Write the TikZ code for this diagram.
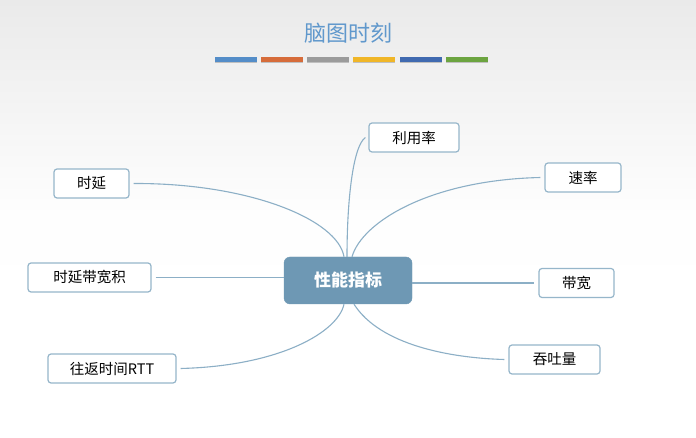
\documentclass[tikz,border=0pt]{standalone}
\usepackage{fontspec}
\setmainfont{Noto Sans CJK SC}
\usepackage{xcolor}
\definecolor{mmtitle}{RGB}{96,152,204}
\definecolor{mmhub}{RGB}{110,152,180}
\definecolor{mmedge}{RGB}{150,182,202}
\definecolor{mmline}{RGB}{140,175,198}
\definecolor{mmbg}{RGB}{234,234,234}
\definecolor{barblue}{RGB}{84,141,200}
\definecolor{barorange}{RGB}{214,108,58}
\definecolor{bargray}{RGB}{155,155,155}
\definecolor{baryellow}{RGB}{240,182,40}
\definecolor{bardblue}{RGB}{64,106,176}
\definecolor{bargreen}{RGB}{108,164,64}
\usepackage{tikz}
\usetikzlibrary{positioning,calc}

\begin{document}
\begin{tikzpicture}[x=1pt, y=-1pt,
  hub/.style={rectangle, rounded corners=6pt, fill=mmhub, draw=mmhub,
              minimum width=128pt, minimum height=47pt,
              font=\fontsize{17}{20}\selectfont\bfseries, text=white},
  leaf/.style={rectangle, rounded corners=3pt, draw=mmedge, line width=1.2pt,
               fill=white, minimum height=29pt, inner sep=0pt,
               font=\fontsize{14.5}{17}\selectfont, text=black},
  branch/.style={draw=mmline, line width=1.1pt},
  bar/.style={minimum width=42pt, minimum height=5pt, inner sep=0pt}
]
% Background
\useasboundingbox (0,0) rectangle (696,438);
\shade[top color=mmbg, bottom color=white, middle color=white!97!mmbg]
  (0,0) rectangle (696,438);

% Title and colour bars
\node[font=\fontsize{22}{26}\selectfont, text=mmtitle] (title) at (348,33) {脑图时刻};
\foreach \c [count=\i from 0] in {barblue,barorange,bargray,baryellow,bardblue,bargreen} {
  \fill[black!25] (214.5+46.3*\i,62) rectangle ++(42,1.5);
  \node[bar, fill=\c] (bar\i) at (235.5+46.3*\i,60) {};
}

% Center node
\node[hub] (hub) at (348,280.5) {性能指标};

% Left nodes
\node[leaf, minimum width=75pt]  (shiyan) at (91.5,183.5) {时延};
\node[leaf, minimum width=123pt] (dbj)    at (89.5,277.5) {时延带宽积};
\node[leaf, minimum width=128pt] (rtt)    at (112,368.5)  {往返时间RTT};

% Right nodes
\node[leaf, minimum width=90pt] (lyl)     at (414,137.5)  {利用率};
\node[leaf, minimum width=76pt] (sulv)    at (583,177.5)  {速率};
\node[leaf, minimum width=75pt] (daikuan) at (576.5,283)  {带宽};
\node[leaf, minimum width=91pt] (tuntu)   at (554.5,359.5){吞吐量};

% Branches
\draw[branch] ([xshift=4pt]shiyan.east) .. controls (250,183) and (338,220) .. ([xshift=-4pt]hub.north);
\draw[branch] ([xshift=4pt]dbj.east) -- (hub.west |- dbj.east);
\draw[branch] ([xshift=4pt]rtt.east) .. controls (280,366) and (338,332) .. ([xshift=-4pt]hub.south);
\draw[branch] ([xshift=-3pt]lyl.west) .. controls (353,146) and (347,200) .. ([xshift=-1pt]hub.north);
\draw[branch] ([xshift=-4pt]sulv.west) .. controls (430,180) and (362,222) .. ([xshift=4pt]hub.north);
\draw[branch] (hub.east |- daikuan.west) -- ([xshift=-4pt]daikuan.west);
\draw[branch] ([xshift=6pt]hub.south) .. controls (380,345) and (450,358) .. ([xshift=-4pt]tuntu.west);
\end{tikzpicture}
\end{document}
